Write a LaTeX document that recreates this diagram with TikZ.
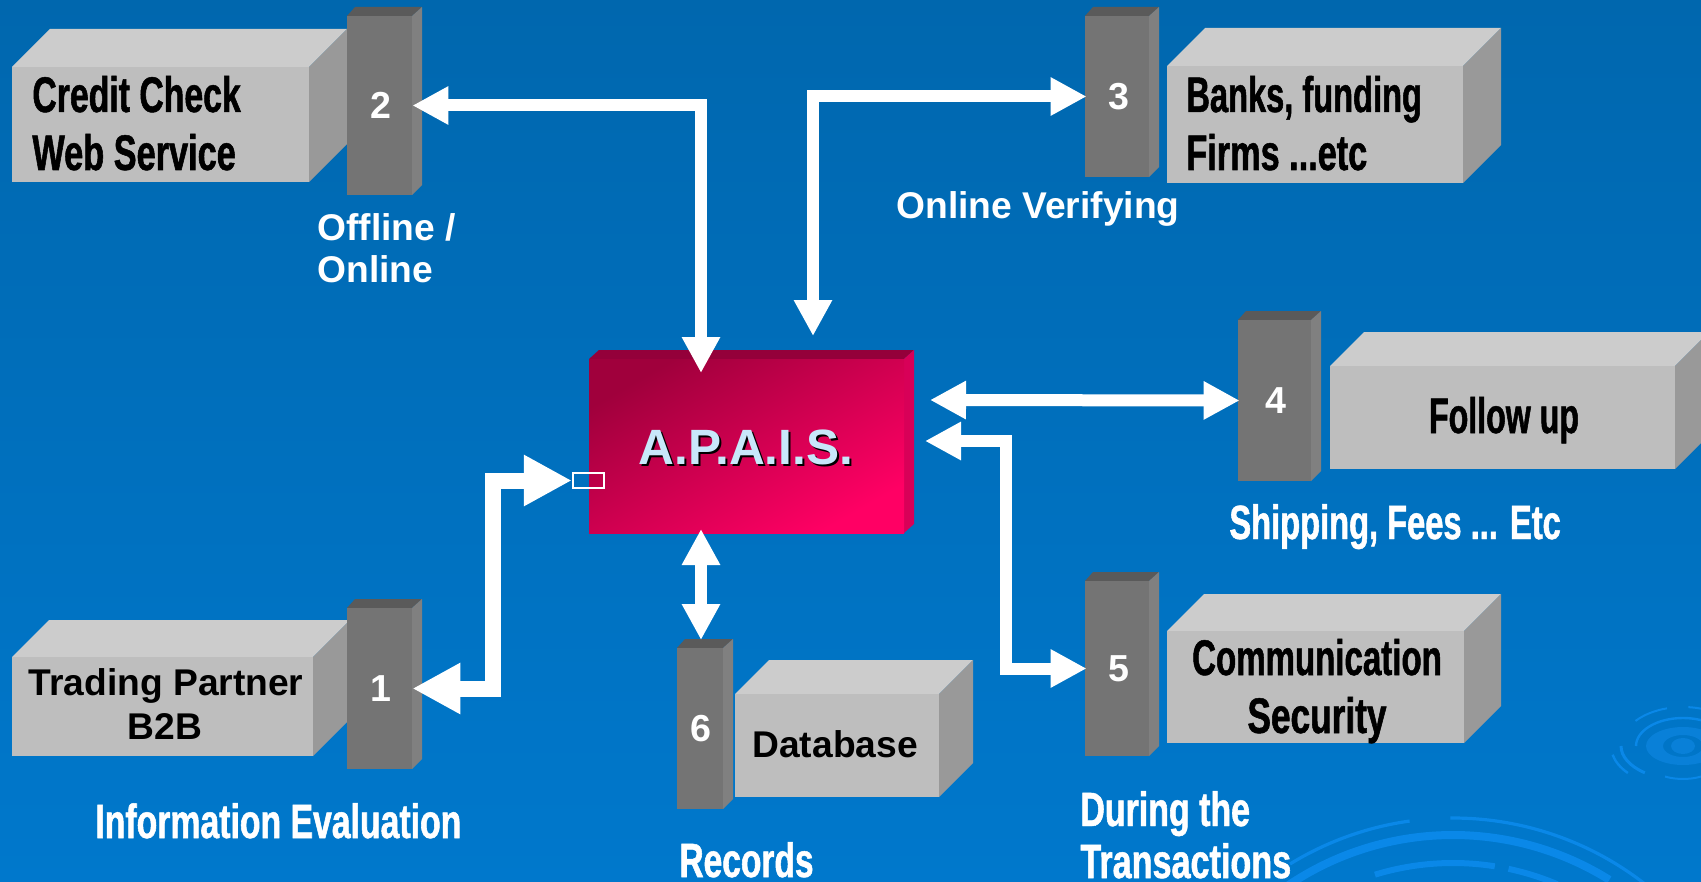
\documentclass[tikz,border=0pt]{standalone}
\usepackage{fontspec}
\usepackage{graphicx}
\usetikzlibrary{arrows.meta,calc}
\setmainfont{Liberation Sans}
\newfontfamily\condf[FakeStretch=0.62,FakeBold=1]{Liberation Sans}
\newcommand{\sx}[2]{\scalebox{#1}[1]{#2}}
\definecolor{bgtop}{HTML}{0067AE}
\definecolor{bgmid}{HTML}{0069B2}
\definecolor{bgbot}{HTML}{0078CC}
\definecolor{ripple}{HTML}{0A88E8}
\definecolor{rippleB}{HTML}{0980D8}
\definecolor{faceF}{HTML}{BEBEBE}
\definecolor{faceT}{HTML}{CCCCCC}
\definecolor{faceS}{HTML}{999999}
\definecolor{colF}{HTML}{747474}
\definecolor{colT}{HTML}{5A5A5A}
\definecolor{colS}{HTML}{808080}
\definecolor{apaA}{HTML}{A0003C}
\definecolor{apaB}{HTML}{FF0064}
\definecolor{apaT}{HTML}{94003A}
\definecolor{apaS}{HTML}{D80058}
\definecolor{apaL}{HTML}{C8E8FA}
\tikzset{
  x=0.5pt,y=-0.5pt,
  arial/.style={inner sep=0pt,font=\fontsize{18.6}{20}\selectfont\bfseries},
  blacklab/.style={arial,text=black},
  whitelab/.style={arial,text=white},
  condblack/.style={inner sep=0pt,text=black,font=\fontsize{25}{27}\selectfont\bfseries\condf},
  condwhite/.style={inner sep=0pt,text=white,font=\fontsize{24}{26}\selectfont\bfseries\condf},
  dbl/.style={draw=white,line width=6pt,line join=miter,
    {Triangle[length=18pt,width=18pt]}-{Triangle[length=18pt,width=18pt]}},
  dblbig/.style={draw=white,line width=8pt,line join=miter,
    {Triangle[length=24pt,width=24pt]}-{Triangle[length=24pt,width=24pt]}},
  reach/.style={shorten >=-1pt},
  reachstart/.style={shorten <=-1pt},
  rip/.style={draw=ripple,line cap=butt},
}
% grey block: front x1 y1 x2 y2, depth
\newcommand{\gblock}[6]{%
  \fill[faceT] (#2,#3) -- ++(#6,-#6) -- ($(#4,#3)+(#6,-#6)$) -- (#4,#3) -- cycle;
  \fill[faceS] (#4,#3) -- ++(#6,-#6) -- ($(#4,#5)+(#6,-#6)$) -- (#4,#5) -- cycle;
  \pgfmathsetmacro\bw{(#4-#2)*0.5}\pgfmathsetmacro\bh{(#5-#3)*0.5}%
  \node[fill=faceF,inner sep=0pt,minimum width=\bw pt,minimum height=\bh pt] (#1) at ({(#2+#4)/2},{(#3+#5)/2}) {};
}
% dark column with number
\newcommand{\gcolumn}[6]{%
  \fill[colT] (#2,#3) -- ++(8,-9) -- ($(#4,#3)+(10,-9)$) -- (#4,#3) -- cycle;
  \fill[colS] (#4,#3) -- ++(10,-9) -- ($(#4,#5)+(10,-10)$) -- (#4,#5) -- cycle;
  \pgfmathsetmacro\bw{(#4-#2)*0.5}\pgfmathsetmacro\bh{(#5-#3)*0.5}%
  \node[fill=colF,inner sep=0pt,minimum width=\bw pt,minimum height=\bh pt,text=white,font=\fontsize{18.8}{20}\selectfont\bfseries] (#1) at ({(#2+#4)/2},{(#3+#5)/2}) {\kern1pt #6};
}
\begin{document}
\begin{tikzpicture}
\useasboundingbox (0,0) rectangle (1701,882);
\clip (0,0) rectangle (1701,882);
\shade[top color=bgtop,middle color=bgmid,bottom color=bgbot] (0,0) rectangle (1701,882);
% ripples, small
\fill[rippleB,even odd rule] (1683,746) ellipse[x radius=37,y radius=19] (1683,746) ellipse[x radius=20,y radius=11];
\fill[rippleB] (1683,746) ellipse[x radius=12,y radius=8];
\draw[rip,line width=1.2pt] (1683,746) ++(180:47 and 28) arc[start angle=180,end angle=310,x radius=47,y radius=28];
\draw[rip,line width=1.5pt] (1683,746) ++(180:62 and 34) arc[start angle=180,end angle=128,x radius=62,y radius=34];
\draw[rip,line width=1pt] (1683,746) ++(220:62 and 39) arc[start angle=220,end angle=255,x radius=62,y radius=39];
\draw[rip,line width=1pt] (1683,746) ++(275:62 and 39) arc[start angle=275,end angle=300,x radius=62,y radius=39];
\draw[rip,line width=1pt] (1683,746) ++(112:48 and 33) arc[start angle=112,end angle=60,x radius=48,y radius=33];
\draw[rip,line width=1.2pt] (1683,746) ++(168:72 and 42) arc[start angle=168,end angle=140,x radius=72,y radius=42];
% ripples, large
\draw[rip,line width=1.6pt] (1453,1130) ++(238.5:312) arc[start angle=238.5,end angle=262,radius=312];
\draw[rip,line width=1.6pt] (1453,1130) ++(269.5:312) arc[start angle=269.5,end angle=310,radius=312];
\draw[rip,line width=4pt] (1453,1130) ++(236:295) arc[start angle=236,end angle=302,radius=295];
\draw[rip,line width=3pt] (1453,1130) ++(253:267) arc[start angle=253,end angle=279,radius=267];
\draw[rip,line width=3pt] (1453,1130) ++(282:267) arc[start angle=282,end angle=293,radius=267];
% blocks
\gblock{b2}{12}{67}{309}{182}{38}
\gcolumn{c2}{347}{16}{412}{195}{2}
\gblock{b3}{1167}{66}{1463}{183}{38}
\gcolumn{c3}{1085}{16}{1149}{177}{\kern1pt 3}
\gblock{b4}{1330}{366}{1675}{469}{34}
\gcolumn{c4}{1238}{320}{1311}{481}{4}
\gblock{b5}{1167}{631}{1464}{743}{37}
\gcolumn{c5}{1085}{581}{1149}{756}{\kern1pt 5}
\gblock{b6}{735}{694}{939}{797}{34}
\gcolumn{c6}{677}{648}{723}{809}{6}
\gblock{b1}{12}{657}{313}{756}{37}
\gcolumn{c1}{347}{608}{412}{769}{1}
% central block
\fill[apaT] (589,359) -- (599,350) -- (914,350) -- (904,359) -- cycle;
\fill[apaS] (904,359) -- (914,350) -- (914,524) -- (904,533) -- cycle;
\path[top color=apaA,bottom color=apaB,shading angle=30] (589,359) rectangle (904,533);
\node[inner sep=0pt,minimum width=157.5pt,minimum height=87pt] (apais) at (746.5,446) {};
\node[anchor=base,inner sep=0pt,font=\fontsize{24.8}{26}\selectfont\bfseries,text=black] at (748,466) {A.P.A.I.S.};
\node[anchor=base,inner sep=0pt,font=\fontsize{24.8}{26}\selectfont\bfseries,text=apaL] (apaistxt) at (746,464) {A.P.A.I.S.};
\node[draw=white,line width=1.2pt,inner sep=0pt,minimum width=15.5pt,minimum height=7.5pt] (port) at (588.5,480.5) {};
% connector ends on the central block
\coordinate (in2) at (701,373);
\coordinate (in3) at (813,336);
\coordinate (in4) at (930,400);
\coordinate (in5) at (925,441);
\coordinate (in6) at (701,529);
\coordinate (top6) at (701,640);
% connectors
\draw[dbl] (c2.east) -| (in2);
\draw[dbl,reachstart] (c3.west) -| (in3);
\draw[dbl,reach] (in4) -- (c4.west);
\draw[dbl,reach] (in5) -| (1006,668.5) -- (c5.west);
\draw[dbl] (in6) -- (top6);
\draw[dblbig] (c1.east) -| (492.5,480.5) -- (port.west);
% labels
\node[condblack,anchor=base west] (t2a) at (32,112) {\sx{1.09}{Credit Check}};
\node[condblack,anchor=base west] (t2b) at (32,170) {\sx{1.107}{Web Service}};
\node[condblack,anchor=base west] (t3a) at (1186,112) {\sx{1.052}{Banks, funding}};
\node[condblack,anchor=base west] (t3b) at (1186,170) {\sx{1.105}{Firms ...etc}};
\node[condblack,anchor=base] (t4) at (1504,433) {\sx{1.037}{Follow up}};
\node[condblack,anchor=base] (t5a) at (1317,675) {\sx{1.066}{Communication}};
\node[condblack,anchor=base] (t5b) at (1317,733) {\sx{1.137}{Security}};
\node[blacklab,anchor=base] (t1a) at (166,695) {Trading Partner};
\node[blacklab,anchor=base] (t1b) at (165,739) {B2B};
\node[blacklab,anchor=base west] (t6) at (752,757) {Database};
\node[whitelab,anchor=base west] (l2a) at (317,241) {Offline /};
\node[whitelab,anchor=base west] (l2b) at (317,282) {Online};
\node[whitelab,anchor=base west] (l3) at (896,219) {Online Verifying};
\node[condwhite,anchor=base west] (l4) at (1229,539) {\sx{1.097}{Shipping, Fees ... Etc}};
\node[condwhite,anchor=base west] (l1) at (95,838) {\sx{1.135}{Information Evaluation}};
\node[condwhite,anchor=base west] (l6) at (679,877) {\sx{1.127}{Records}};
\node[condwhite,anchor=base west] (l5a) at (1080,826) {\sx{1.14}{During the}};
\node[condwhite,anchor=base west] (l5b) at (1080,878) {\sx{1.148}{Transactions}};
\end{tikzpicture}
\end{document}
